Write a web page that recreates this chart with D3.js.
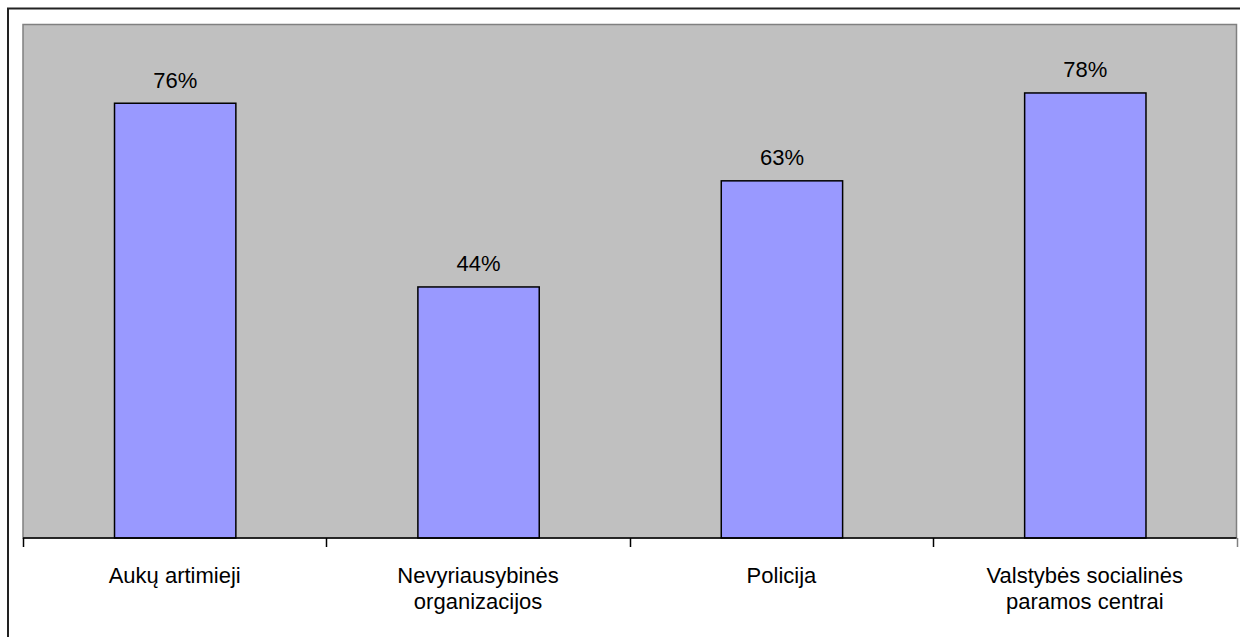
<!DOCTYPE html>
<html>
<head>
<meta charset="utf-8">
<script src="https://cdn.jsdelivr.net/npm/d3@7"></script>
<style>
  html, body { margin: 0; padding: 0; background: #fff; }
  svg { display: block; }
  text { font-family: "Liberation Sans", Arial, sans-serif; fill: #000; }
</style>
</head>
<body>
<svg id="chart" width="1240" height="637"></svg>
<script>
const categories = [
  ["Aukų artimieji"],
  ["Nevyriausybinės", "organizacijos"],
  ["Policija"],
  ["Valstybės socialinės", "paramos centrai"]
];
const values = [0.762, 0.44, 0.626, 0.78];
const yMax = 0.9;

const W = 1240, H = 637;
const plot = { left: 23, right: 1236.5, top: 24.5, bottom: 538 };

const svg = d3.select("#chart");

// outer chart border
svg.append("rect")
  .attr("x", 8).attr("y", 8.5)
  .attr("width", W + 10).attr("height", H + 10)
  .attr("fill", "#fff").attr("stroke", "#222").attr("stroke-width", 2);

const x = d3.scaleBand()
  .domain(d3.range(categories.length))
  .range([plot.left, plot.right])
  .paddingInner(0.6).paddingOuter(0.3);

const y = d3.scaleLinear().domain([0, yMax]).range([plot.bottom, plot.top]);

// plot area
svg.append("rect")
  .attr("x", plot.left).attr("y", plot.top)
  .attr("width", plot.right - plot.left).attr("height", plot.bottom - plot.top)
  .attr("fill", "#C0C0C0").attr("stroke", "#808080").attr("stroke-width", 1.5);

// bars
svg.append("g").selectAll("rect")
  .data(values)
  .join("rect")
  .attr("x", (d, i) => x(i) + 0.5)
  .attr("y", d => y(d))
  .attr("width", x.bandwidth())
  .attr("height", d => y(0) - y(d))
  .attr("fill", "#9999FF")
  .attr("stroke", "#000").attr("stroke-width", 1.5);

// value labels
svg.append("g").selectAll("text")
  .data(values)
  .join("text")
  .attr("x", (d, i) => x(i) + x.bandwidth() / 2 + 0.5)
  .attr("y", d => y(d) - 15.5)
  .attr("text-anchor", "middle")
  .style("font-size", "22px")
  .text(d => Math.round(d * 100) + "%");

// x axis
const xEdges = d3.scaleLinear().domain([0, categories.length]).range([plot.left, plot.right]);
const axis = svg.append("g");
axis.append("line")
  .attr("x1", plot.left).attr("x2", plot.right)
  .attr("y1", plot.bottom).attr("y2", plot.bottom)
  .attr("stroke", "#000").attr("stroke-width", 1.5);
axis.selectAll("line.tick")
  .data(d3.range(categories.length + 1))
  .join("line")
  .attr("class", "tick")
  .attr("x1", d => Math.round(xEdges(d)) + 0.5).attr("x2", d => Math.round(xEdges(d)) + 0.5)
  .attr("y1", plot.bottom).attr("y2", plot.bottom + 9)
  .attr("stroke", (d, i) => i === categories.length ? "#808080" : "#000")
  .attr("stroke-width", 1.5);

// category labels
const labels = axis.selectAll("text.cat")
  .data(categories)
  .join("text")
  .attr("class", "cat")
  .attr("text-anchor", "middle")
  .style("font-size", "22px")
  .attr("x", (d, i) => x(i) + x.bandwidth() / 2)
  .attr("y", 583);
labels.selectAll("tspan")
  .data((d, i) => d.map(t => ({ t, i })))
  .join("tspan")
  .attr("x", d => x(d.i) + x.bandwidth() / 2)
  .attr("dy", (d, j) => j === 0 ? 0 : 26)
  .text(d => d.t);
</script>
</body>
</html>
